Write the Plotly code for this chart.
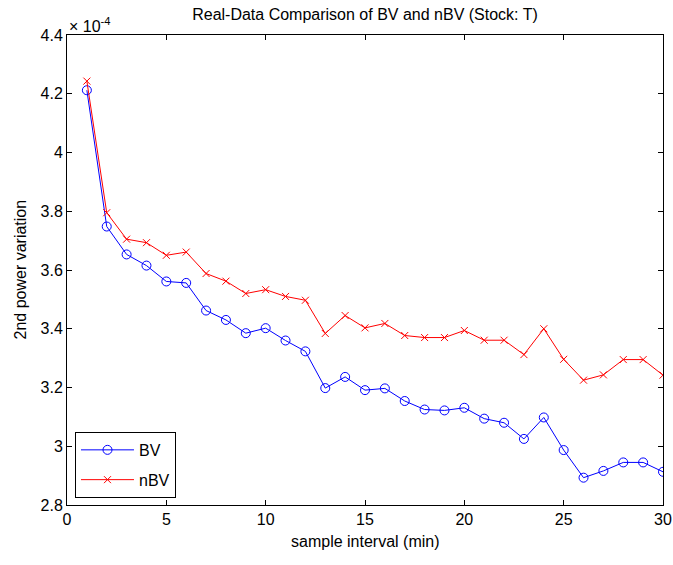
import plotly.graph_objects as go

interval_min = list(range(1, 31))
bv_e4 = [4.212, 3.748, 3.653, 3.615, 3.561, 3.556, 3.462, 3.430, 3.385, 3.402,
         3.360, 3.323, 3.198, 3.236, 3.191, 3.197, 3.154, 3.125, 3.122, 3.131,
         3.094, 3.080, 3.025, 3.098, 2.987, 2.893, 2.916, 2.945, 2.945, 2.913]
nbv_e4 = [4.243, 3.795, 3.705, 3.693, 3.650, 3.661, 3.588, 3.562, 3.520, 3.533,
          3.510, 3.497, 3.384, 3.445, 3.403, 3.418, 3.377, 3.370, 3.370, 3.394,
          3.361, 3.361, 3.312, 3.400, 3.296, 3.225, 3.243, 3.295, 3.295, 3.242]
x_ticks = [0, 5, 10, 15, 20, 25, 30]
y_ticks = [2.8, 3.0, 3.2, 3.4, 3.6, 3.8, 4.0, 4.2, 4.4]

FONT = "Liberation Sans, Arial, sans-serif"
FS = 16

fig = go.Figure()
fig.add_trace(go.Scatter(
    x=interval_min, y=bv_e4, name="BV", mode="lines+markers", legendgroup="a",
    line=dict(color="#0000ff", width=1),
    marker=dict(symbol="circle-open", size=9, color="#0000ff", line=dict(width=1)),
))
fig.add_trace(go.Scatter(
    x=interval_min, y=nbv_e4, name="nBV", mode="lines+markers", legendgroup="b",
    line=dict(color="#ff0000", width=1),
    marker=dict(symbol="x-thin-open", size=7, color="#ff0000", line=dict(width=1, color="#ff0000")),
))

axis_common = dict(
    showgrid=False, zeroline=False, showline=True, linecolor="black", linewidth=1,
    mirror="ticks", ticks="inside", ticklen=5, tickcolor="black", automargin=False,
    tickfont=dict(family=FONT, size=FS, color="black"),
)

fig.update_layout(
    width=673, height=565,
    margin=dict(l=67, r=10, t=35, b=60, autoexpand=False),
    paper_bgcolor="white", plot_bgcolor="white",
    font=dict(family=FONT, size=FS, color="black"),
    title=dict(text="Real-Data Comparison of BV and nBV (Stock: T)",
               x=0.5, xref="paper", y=0.974, yanchor="middle",
               font=dict(family=FONT, size=FS, color="black")),
    xaxis=dict(range=[0, 30], tickvals=x_ticks, **axis_common),
    yaxis=dict(range=[2.8, 4.4], tickvals=y_ticks, **axis_common),
    legend=dict(x=0.0134, y=0.015, xanchor="left", yanchor="bottom",
                bgcolor="white", bordercolor="black", borderwidth=1,
                font=dict(family=FONT, size=FS, color="black"),
                itemwidth=53, tracegroupgap=6),
    showlegend=True,
    annotations=[
        dict(text="× 10<sup>-4</sup>", x=0, y=1, xref="paper", yref="paper",
             xanchor="left", yanchor="bottom", showarrow=False, yshift=-2,
             font=dict(family=FONT, size=FS, color="black")),
        dict(text="sample interval (min)", x=0.5, y=541, xref="paper", yref="paper",
             showarrow=False, font=dict(family=FONT, size=FS, color="black")),
        dict(text="2nd power variation", x=0, y=0.5, xref="paper", yref="paper",
             xanchor="center", yanchor="middle", xshift=-47.5, textangle=-90,
             showarrow=False, font=dict(family=FONT, size=FS, color="black")),
    ],
)
# x-axis title position: convert pixel row 541 to paper coords
fig.layout.annotations[1].y = (505 - 541) / 470.0
fig.layout.annotations[1].yanchor = "middle"

fig.write_html("out.html", config={"displayModeBar": False},
               post_script="document.body.style.margin='0';")
